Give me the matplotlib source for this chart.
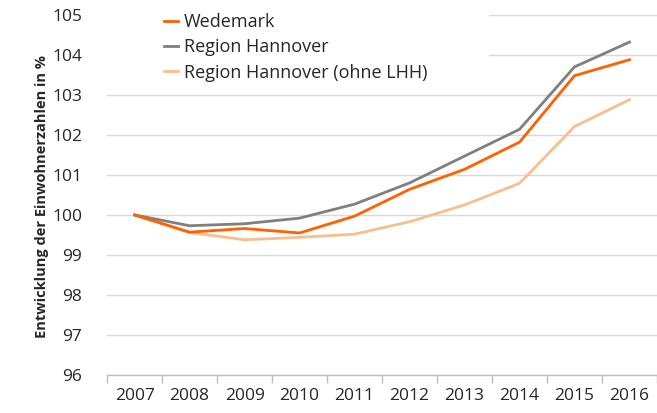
import matplotlib
matplotlib.use("Agg")
import matplotlib.pyplot as plt
from matplotlib.patches import Rectangle

years = ["2007", "2008", "2009", "2010", "2011", "2012", "2013", "2014", "2015", "2016"]
wedemark = [100.0, 99.57, 99.66, 99.55, 99.97, 100.64, 101.14, 101.82, 103.48, 103.88]
region_hannover = [100.0, 99.73, 99.78, 99.92, 100.27, 100.80, 101.47, 102.14, 103.70, 104.32]
region_ohne_lhh = [100.0, 99.56, 99.38, 99.44, 99.52, 99.83, 100.25, 100.79, 102.21, 102.88]
yticks = [96, 97, 98, 99, 100, 101, 102, 103, 104, 105]

plt.rcParams['font.family'] = ['Open Sans', 'DejaVu Sans']

fig = plt.figure(figsize=(6.57, 4.13), dpi=100)
ax = fig.add_axes([0.163, 0.092, 0.837, 0.872])

x = list(range(len(years)))
ax.plot(x, wedemark, color="#FF6000", lw=2.0, label="Wedemark", zorder=5)
ax.plot(x, region_hannover, color="#7F7F7F", lw=2.0, label="Region Hannover", zorder=4)
ax.plot(x, region_ohne_lhh, color="#F9BE90", lw=2.0, label="Region Hannover (ohne LHH)", zorder=3)

ax.set_xlim(-0.5, len(years) - 0.5)
ax.set_ylim(96, 105)
ax.set_yticks(yticks)
ax.set_yticklabels([str(v) for v in yticks], fontsize=12.5, color="#262626")
ax.set_xticks(x)
ax.set_xticklabels(years, fontsize=12.5, color="#262626")
ax.set_xticks([i - 0.5 for i in range(len(years) + 1)], minor=True)
ax.tick_params(axis='x', which='major', length=0, pad=9)
ax.tick_params(axis='x', which='minor', length=6, color="#BFBFBF", width=1)
ax.tick_params(axis='y', length=0, pad=18)

ax.grid(axis='y', color="#D9D9D9", lw=1.0, zorder=0)
ax.set_axisbelow(True)
for s in ["top", "right", "left"]:
    ax.spines[s].set_visible(False)
ax.spines["bottom"].set_color("#BFBFBF")
ax.spines["bottom"].set_linewidth(1.0)

# white legend area covering gridlines
ax.add_patch(Rectangle((0.0, 0.835), 0.695, 0.2, transform=ax.transAxes,
                       facecolor="white", edgecolor="none", zorder=1, clip_on=False))

leg = ax.legend(loc="upper left", bbox_to_anchor=(0.09, 1.025), frameon=False,
                fontsize=13, handlelength=0.8, handletextpad=0.3, labelspacing=0.4,
                borderaxespad=0)
for t in leg.get_texts():
    t.set_color("#262626")

fig.text(0.064, 0.525, "Entwicklung der Einwohnerzahlen in %", rotation=90,
         ha="center", va="center", fontsize=10.5, fontweight="bold", color="#262626")

fig.savefig("out.png", dpi=100)
